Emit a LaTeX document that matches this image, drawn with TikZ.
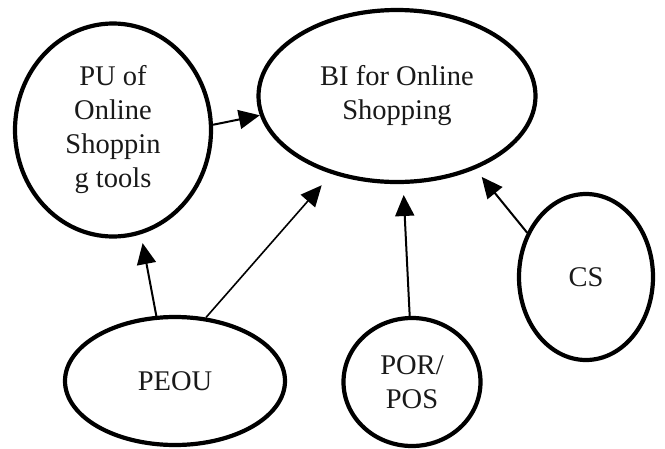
\documentclass[tikz,border=0pt]{standalone}
\usepackage{fontspec}
\setmainfont{Liberation Serif}
\usepackage{tikz}
\usetikzlibrary{arrows.meta,shapes.geometric}

\begin{document}
\begin{tikzpicture}[
  x=1pt, y=-1pt,
  font=\fontsize{28.5}{34}\selectfont,
  construct/.style={ellipse, draw=black, line width=4.2pt, inner sep=0pt,
                    align=center, text=black!90},
  arr/.style={-{Triangle[length=21pt, width=19pt]}, line width=2pt, draw=black}
]
  \useasboundingbox (0,0) rectangle (665,448);

  % --- Constructs ---
  \node[construct, minimum width=196pt, minimum height=213pt] (pu)  at (113,130)
        {PU of\\Online\\Shoppin\\g tools};
  \node[construct, minimum width=277pt, minimum height=172pt] (bi)  at (397,96)
        {BI for Online\\Shopping};
  \node[construct, minimum width=220pt, minimum height=128pt] (peou) at (175,381) {PEOU};
  \node[construct, minimum width=137pt, minimum height=128pt] (por)  at (412,382)
        {POR/\\POS};
  \node[construct, minimum width=134pt, minimum height=166pt] (cs)   at (586,277) {CS};

  % --- Paths into BI and PU ---
  \draw[arr] (pu.3) -- (bi.188);
  \draw[arr, shorten >=9pt]  (peou.106) -- (pu.-75);
  \draw[arr, line width=1.6pt, shorten >=15pt] (peou.64) -- (bi.-130);
  \draw[arr, shorten >=11pt] (por.92) -- (bi.-86);
  \draw[arr, shorten >=10pt] (cs.143) -- (bi.-43);
\end{tikzpicture}
\end{document}
